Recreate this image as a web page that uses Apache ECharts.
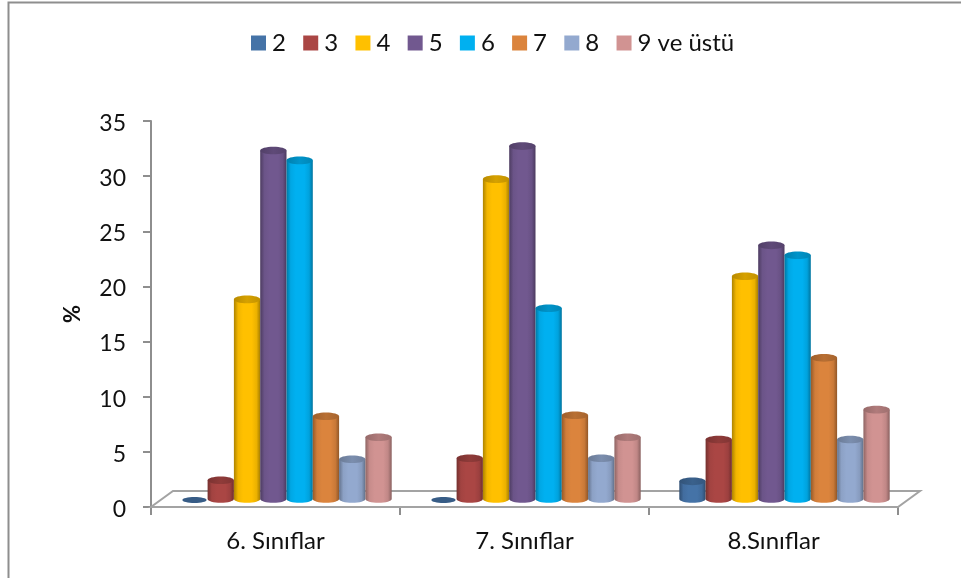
<!DOCTYPE html>
<html>
<head>
<meta charset="utf-8">
<style>html,body{margin:0;padding:0;background:#fff}#chart{width:961px;height:578px}</style>
<script src="https://cdn.jsdelivr.net/npm/echarts@6/dist/echarts.min.js"></script>
</head>
<body>
<div id="chart"></div>
<script>
const categories = ['6. Sınıflar', '7. Sınıflar', '8.Sınıflar'];
const grade2 = [0, 0, 1.6];
const grade3 = [1.7, 3.7, 5.4];
const grade4 = [18.1, 29.0, 20.2];
const grade5 = [31.6, 32.0, 23.0];
const grade6 = [30.7, 17.3, 22.1];
const grade7 = [7.5, 7.6, 12.8];
const grade8 = [3.6, 3.7, 5.4];
const grade9 = [5.6, 5.6, 8.1];
const seriesNames = ['2', '3', '4', '5', '6', '7', '8', '9 ve üstü'];
const seriesValues = [grade2, grade3, grade4, grade5, grade6, grade7, grade8, grade9];
const colors = ['#4573A7', '#AA4644', '#FFC000', '#71588F', '#00B0F0', '#DB843D', '#93A9CF', '#D19392'];

const FONT = 'Lato, "Open Sans", sans-serif';
const DEPTH_X = 11, DEPTH_Y = 8;      // bars stand mid-way across the floor
const FLOOR_X = 22, FLOOR_Y = 16;     // full depth of the floor
const BAND_FILL = 0.845;
const CAP_RY = 3.8;

function shade(hex, f) {
  const n = parseInt(hex.slice(1), 16);
  const c = [(n >> 16) & 255, (n >> 8) & 255, n & 255].map(v => Math.round(v * f));
  return `rgb(${c[0]},${c[1]},${c[2]})`;
}

function cylinder(colorHex, seriesIndex) {
  return function (params, api) {
    const cat = api.value(0), val = api.value(1);
    const band = api.size([1, 0])[0];
    const w = band * BAND_FILL / seriesNames.length;
    const top = api.coord([cat, val]);
    const base = api.coord([cat, 0]);
    const cx = base[0] + DEPTH_X + (seriesIndex - (seriesNames.length - 1) / 2) * w;
    const yTop = top[1] - DEPTH_Y, yBase = base[1] - DEPTH_Y;
    const rx = w / 2;
    if (val === 0) {
      return { type: 'ellipse', shape: { cx: cx, cy: yBase + 1, rx: rx - 1, ry: 3 }, style: { fill: shade(colorHex, 0.8) } };
    }
    const body = new echarts.graphic.LinearGradient(0, 0, 1, 0, [
      { offset: 0, color: shade(colorHex, 0.68) },
      { offset: 0.16, color: shade(colorHex, 0.95) },
      { offset: 0.35, color: colorHex },
      { offset: 0.68, color: colorHex },
      { offset: 0.86, color: shade(colorHex, 0.92) },
      { offset: 1, color: shade(colorHex, 0.66) }
    ]);
    const cap = new echarts.graphic.LinearGradient(0, 0, 1, 0, [
      { offset: 0, color: shade(colorHex, 0.72) },
      { offset: 0.5, color: shade(colorHex, 0.84) },
      { offset: 1, color: shade(colorHex, 0.76) }
    ]);
    const k = 0.5523;
    const path = [
      `M${cx - rx} ${yTop}`, `L${cx - rx} ${yBase}`,
      `C${cx - rx} ${yBase + k * CAP_RY} ${cx - k * rx} ${yBase + CAP_RY} ${cx} ${yBase + CAP_RY}`,
      `C${cx + k * rx} ${yBase + CAP_RY} ${cx + rx} ${yBase + k * CAP_RY} ${cx + rx} ${yBase}`,
      `L${cx + rx} ${yTop}`, 'Z'
    ].join(' ');
    return {
      type: 'group',
      children: [
        { type: 'path', shape: { pathData: path }, style: { fill: body } },
        { type: 'ellipse', shape: { cx: cx, cy: yTop, rx: rx, ry: CAP_RY }, style: { fill: cap } }
      ]
    };
  };
}

function floorItem(params, api) {
  const n = categories.length;
  const a = api.coord([0, 0]), band = api.size([1, 0])[0];
  const x0 = a[0] - band / 2, x1 = x0 + band * n, y = a[1];
  return {
    type: 'polygon',
    shape: { points: [[x0, y], [x1, y], [x1 + FLOOR_X, y - FLOOR_Y], [x0 + FLOOR_X, y - FLOOR_Y]] },
    style: { fill: '#fff', stroke: '#a3a3a3', lineWidth: 2 }
  };
}

const option = {
  animation: false,
  backgroundColor: '#fff',
  graphic: [{
    type: 'polyline', z: -1, silent: true,
    shape: { points: [[8.5, 578], [8.5, 2.5], [961, 2.5]] },
    style: { fill: 'none', stroke: '#8e8e8e', lineWidth: 2 }
  }],
  legend: {
    left: 246, top: 26, icon: 'rect', itemWidth: 15, itemHeight: 15, itemGap: 17.3,
    data: seriesNames,
    textStyle: { fontFamily: FONT, fontSize: 24, color: '#111', padding: [0, 0, 0, 1] }
  },
  grid: { left: 151, right: 63, top: 121, bottom: 71 },
  xAxis: {
    type: 'category', data: categories,
    axisLine: { lineStyle: { color: '#8e8e8e', width: 2 } },
    axisTick: { show: true, alignWithLabel: false, length: 8, lineStyle: { color: '#8e8e8e', width: 2 } },
    axisLabel: { fontFamily: FONT, fontSize: 24, color: '#111', margin: 22 }
  },
  yAxis: {
    type: 'value', min: 0, max: 35, interval: 5,
    name: '%', nameLocation: 'middle', nameGap: 67,
    nameTextStyle: { fontFamily: FONT, fontSize: 22, fontWeight: 'bold', color: '#111' },
    axisLine: { show: true, lineStyle: { color: '#8e8e8e', width: 2 } },
    axisTick: { show: true, length: 8, lineStyle: { color: '#8e8e8e', width: 2 } },
    splitLine: { show: false },
    axisLabel: {
      color: '#111', margin: 25,
      formatter: '{n|{value}}',
      rich: { n: { fontFamily: FONT, fontSize: 23, color: '#111', padding: [5, 0, 0, 0] } }
    }
  },
  series: [
    { type: 'custom', silent: true, z: 1, data: [[0, 0]], encode: { x: 0, y: 1 }, renderItem: floorItem, legendHoverLink: false }
  ].concat(seriesNames.map((name, i) => ({
    type: 'custom', name: name, z: 2 + i,
    itemStyle: { color: colors[i] },
    data: seriesValues[i].map((v, c) => [c, v]),
    encode: { x: 0, y: 1 },
    renderItem: cylinder(colors[i], i)
  })))
};
echarts.init(document.getElementById('chart'), null, { renderer: 'canvas' }).setOption(option);
</script>
</body>
</html>
